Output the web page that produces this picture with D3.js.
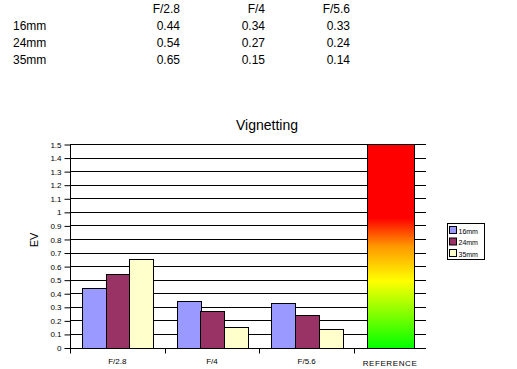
<!DOCTYPE html>
<html>
<head>
<meta charset="utf-8">
<script src="https://cdn.jsdelivr.net/npm/d3@7"></script>
<style>
  body { margin: 0; background: #fff; }
  svg { display: block; font-family: "Liberation Sans", Arial, sans-serif; }
</style>
</head>
<body>
<script>
// data
var apertures = ["F/2.8", "F/4", "F/5.6"];
var lenses = ["16mm", "24mm", "35mm"];
var ev16 = [0.44, 0.34, 0.33];
var ev24 = [0.54, 0.27, 0.24];
var ev35 = [0.65, 0.15, 0.14];
var refLabel = ["REFERENCE"];
var refValue = [1.5];
var yTicks = [0, 0.1, 0.2, 0.3, 0.4, 0.5, 0.6, 0.7, 0.8, 0.9, 1, 1.1, 1.2, 1.3, 1.4, 1.5];
var colors = ["#9999ff", "#993366", "#ffffcc"];

var series = [ev16, ev24, ev35];

var svg = d3.select("body").append("svg")
    .attr("width", 517)
    .attr("height", 369);

// table on top
var colX = d3.scalePoint().domain(apertures).range([180, 350]);
var rowY = d3.scalePoint().domain(lenses).range([30, 64]);

svg.append("g").selectAll("text")
    .data(apertures)
    .enter().append("text")
    .attr("x", function(d) { return colX(d); })
    .attr("y", 13)
    .attr("text-anchor", "end")
    .style("font-size", "12px")
    .text(function(d) { return d; });

lenses.forEach(function(l, i) {
  svg.append("text")
      .attr("x", 13)
      .attr("y", rowY(l))
      .style("font-size", "12px")
      .text(l);
  svg.append("g").selectAll("text")
      .data(series[i])
      .enter().append("text")
      .attr("x", function(d, j) { return colX(apertures[j]); })
      .attr("y", rowY(l))
      .attr("text-anchor", "end")
      .style("font-size", "12px")
      .text(function(d) { return d.toFixed(2); });
});

// chart area
var plotLeft = 70, plotRight = 426, plotTop = 144, plotBottom = 347.5;

var x = d3.scaleBand().domain(apertures).range([plotLeft, 354]);
var xRef = d3.scaleBand().domain(refLabel).range([354, plotRight]).paddingInner(0).paddingOuter(0.266);
var xInner = d3.scaleBand().domain(lenses).range([0, x.bandwidth()]).paddingOuter(0.5).paddingInner(0);
var y = d3.scaleLinear().domain([0, 1.5]).range([plotBottom, plotTop]);

// gradient for reference
var grad = svg.append("defs").append("linearGradient")
    .attr("id", "refGrad")
    .attr("x1", 0).attr("y1", 1).attr("x2", 0).attr("y2", 0);
grad.append("stop").attr("offset", 0).attr("stop-color", "#00ff00");
grad.append("stop").attr("offset", 0.33).attr("stop-color", "#ffff00");
grad.append("stop").attr("offset", 0.5).attr("stop-color", "#ff9900");
grad.append("stop").attr("offset", 0.64).attr("stop-color", "#ff0000");
grad.append("stop").attr("offset", 1).attr("stop-color", "#ff0000");

// title
svg.append("text")
    .attr("x", 267)
    .attr("y", 130)
    .attr("text-anchor", "middle")
    .style("font-size", "14px")
    .text("Vignetting");

// gridlines
svg.append("g").selectAll("line")
    .data(yTicks.slice(1))
    .enter().append("line")
    .attr("x1", plotLeft).attr("x2", plotRight)
    .attr("y1", function(d) { return Math.round(y(d)) + 0.5; })
    .attr("y2", function(d) { return Math.round(y(d)) + 0.5; })
    .attr("stroke", "#000");

// bars
series.forEach(function(s, i) {
  svg.append("g").selectAll("rect")
      .data(s)
      .enter().append("rect")
      .attr("x", function(d, j) { return Math.round(x(apertures[j]) + xInner(lenses[i])) + 0.5; })
      .attr("y", function(d) { return Math.round(y(d)) + 0.5; })
      .attr("width", Math.round(xInner.bandwidth()))
      .attr("height", function(d) { return Math.round(y(0)) - Math.round(y(d)); })
      .attr("fill", colors[i])
      .attr("stroke", "#000");
});

svg.append("g").selectAll("rect")
    .data(refValue)
    .enter().append("rect")
    .attr("x", Math.round(xRef(refLabel[0])) + 0.5)
    .attr("y", function(d) { return Math.round(y(d)) + 0.5; })
    .attr("width", Math.round(xRef.bandwidth()))
    .attr("height", function(d) { return Math.round(y(0)) - Math.round(y(d)); })
    .attr("fill", "url(#refGrad)")
    .attr("stroke", "#000");

// y axis
var yAxis = svg.append("g")
    .attr("transform", "translate(" + (plotLeft + 0.5) + ",0.5)")
    .call(d3.axisLeft(y).tickValues(yTicks).tickSize(6).tickPadding(3)
      .tickFormat(function(d) { return d3.format("")(d); }));
yAxis.select(".domain").attr("d", "M0," + Math.round(plotTop) + "V" + Math.round(plotBottom));
yAxis.selectAll("text").style("font-size", "8px").style("font-family", "Liberation Sans, Arial, sans-serif");

// x axis
var xAxis = svg.append("g")
    .attr("transform", "translate(0," + (Math.round(plotBottom) + 0.5) + ")");
xAxis.append("line")
    .attr("x1", plotLeft).attr("x2", plotRight)
    .attr("stroke", "#000");
var bounds = [plotLeft, x(apertures[1]), x(apertures[2]), 354];
xAxis.selectAll(".tk")
    .data(bounds)
    .enter().append("line")
    .attr("x1", function(d) { return Math.round(d) + 0.5; })
    .attr("x2", function(d) { return Math.round(d) + 0.5; })
    .attr("y1", 0).attr("y2", 5)
    .attr("stroke", "#000");
xAxis.selectAll(".lbl")
    .data(apertures)
    .enter().append("text")
    .attr("x", function(d) { return x(d) + x.bandwidth() / 2; })
    .attr("y", 15)
    .attr("text-anchor", "middle")
    .style("font-size", "8px")
    .text(function(d) { return d; });
xAxis.append("text")
    .attr("x", xRef(refLabel[0]) + xRef.bandwidth() / 2)
    .attr("y", 17)
    .attr("text-anchor", "middle")
    .style("font-size", "8px")
    .style("letter-spacing", "0.6px")
    .text(refLabel[0]);

// y label
svg.append("text")
    .attr("transform", "translate(38,240) rotate(-90)")
    .attr("text-anchor", "middle")
    .style("font-size", "11px")
    .text("EV");

// legend
var legend = svg.append("g").attr("transform", "translate(447.5,223.5)");
legend.append("rect")
    .attr("width", 37).attr("height", 36)
    .attr("fill", "#fff").attr("stroke", "#000");
lenses.forEach(function(l, i) {
  legend.append("rect")
      .attr("x", 2).attr("y", 3 + i * 11.5)
      .attr("width", 7).attr("height", 7)
      .attr("fill", colors[i]).attr("stroke", "#000");
  legend.append("text")
      .attr("x", 11).attr("y", 10 + i * 11.5)
      .style("font-size", "7px")
      .text(l);
});
</script>
</body>
</html>
